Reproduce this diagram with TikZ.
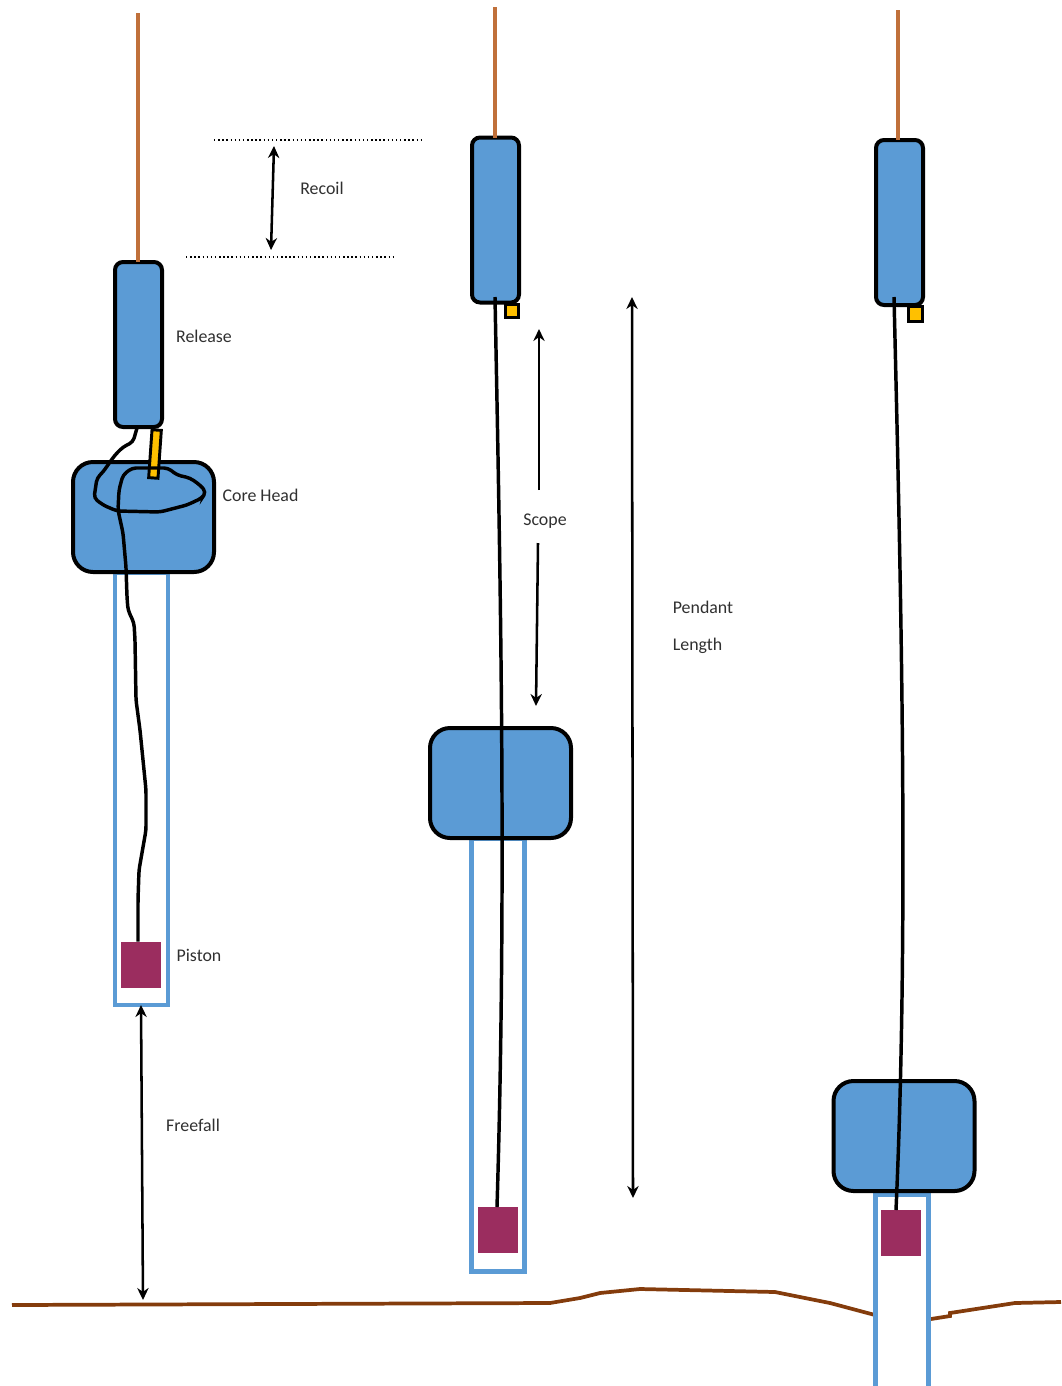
\documentclass[tikz,border=0pt]{standalone}
\usepackage{fontspec}
\setmainfont{Carlito}
\usepackage{xcolor}
\usetikzlibrary{positioning, arrows.meta}

\definecolor{bodyblue}{HTML}{5B9BD5}
\definecolor{pistonred}{HTML}{9B2D5F}
\definecolor{triggeryellow}{HTML}{FFC000}
\definecolor{ropebrown}{HTML}{C0703A}
\definecolor{seabed}{HTML}{843C0C}
\definecolor{labelgrey}{HTML}{303030}

\tikzset{
    release/.style={draw=black,fill=bodyblue,line width=3pt,rounded corners=6pt,inner sep=0pt,outer sep=0pt,minimum width=35.25pt,minimum height=123.75pt},
    corehead/.style={draw=black,fill=bodyblue,line width=3pt,rounded corners=15pt,inner sep=0pt,outer sep=0pt,minimum width=105.75pt,minimum height=82.5pt},
    barrel/.style={draw=bodyblue,fill=white,line width=3.6pt,inner sep=0pt,outer sep=0pt,minimum width=39.75pt},
    piston/.style={fill=pistonred,inner sep=0pt,outer sep=0pt,minimum width=30pt,minimum height=34.5pt},
    trigger/.style={draw=black,fill=triggeryellow,line width=2.2pt,inner sep=0pt,outer sep=0pt},
    rope/.style={draw=ropebrown,line width=2.8pt},
    wire/.style={draw=black,line width=2.6pt},
    ground/.style={draw=seabed,line width=2.8pt},
    span/.style={draw=black,line width=1.9pt,{Stealth[length=9pt,width=8.5pt]}-{Stealth[length=9pt,width=8.5pt]}},
    halfspan/.style={draw=black,line width=1.9pt,-{Stealth[length=9pt,width=8.5pt]}},
    level/.style={draw=black,line width=1.1pt,dotted,line cap=butt},
    lbl/.style={text=labelgrey,font=\fontsize{13.4pt}{16pt}\selectfont,inner sep=0pt}
}

\begin{document}
\begin{tikzpicture}[x=0.75pt,y=-0.75pt]
    \useasboundingbox (0,0) rectangle (1061,1386);

    % sea floor, the right part starts behind the last barrel
    \coordinate (floorA) at (12,1305);
    \coordinate (floorB) at (875,1315);
    \coordinate (floorC) at (931,1319);
    \coordinate (floorD) at (1061,1302);
    \draw[ground] (floorA) -- (550,1303) -- (580,1298) -- (600,1293) -- (640,1289) -- (775,1292) -- (830,1303) -- (floorB);
    \draw[ground] (floorC) -- (950,1316) -- (950,1313) -- (1015,1303) -- (floorD);

    % first stage
    \node[barrel,minimum height=324pt] (barrelA) at (141.5,789) {};
    \node[corehead] (headA) at (143.5,517) {};
    \node[release] (releaseA) at (138.5,344.5) {};
    \node[piston] (pistonA) at (140.5,964.5) {};
    \node[trigger,minimum width=7pt,minimum height=36pt,rotate=-4] (triggerA) at (155,454) {};
    \coordinate (ropeA) at (138,13);
    \draw[rope] (ropeA) -- (releaseA.north -| ropeA);
    \draw[wire,rounded corners=3pt] (137,428) -- (133,442) -- (123,447) -- (115,455) -- (110,462) -- (103,472) -- (97,478) -- (94,498)
        -- (103,505) -- (117,511) -- (160,512) -- (187,505) -- (202,498) -- (206,492) -- (200,485) -- (190,478) -- (177,475)
        -- (168,468) -- (132,468) -- (123,475) -- (119,490) -- (118,510) -- (123,533) -- (126,567) -- (127,597) -- (128,610)
        -- (134,623) -- (135,640) -- (136,700) -- (140,730) -- (146,790) -- (146,830) -- (139,870) -- (138,900) -- (pistonA.north -| 138,900);

    % second stage
    \node[barrel,minimum height=324.75pt] (barrelB) at (498,1055) {};
    \node[corehead] (headB) at (500.5,783) {};
    \node[trigger,minimum size=10pt] (triggerB) at (512,311) {};
    \node[release] (releaseB) at (495.5,220) {};
    \node[piston] (pistonB) at (497.5,1230) {};
    \coordinate (ropeB) at (495,7);
    \coordinate (wireB) at (495,297);
    \draw[rope] (ropeB) -- (releaseB.north -| ropeB);
    \draw[wire] (wireB) .. controls (500,560) and (507,880) .. (pistonB.north -| 497,1210);

    % third stage
    \node[barrel,minimum height=165pt] (barrelC) at (902,1305) {};
    \node[corehead] (headC) at (904,1136) {};
    \node[trigger,minimum size=11pt] (triggerC) at (915.5,314) {};
    \node[release] (releaseC) at (899.5,222.5) {};
    \node[piston] (pistonC) at (900.5,1233) {};
    \coordinate (ropeC) at (898,10);
    \coordinate (wireC) at (894,297);
    \draw[rope] (ropeC) -- (releaseC.north -| ropeC);
    \draw[wire] (wireC) .. controls (901,590) and (909,920) .. (pistonC.north -| 896,1210);

    % recoil levels and arrows
    \coordinate (levelAl) at (214,140);
    \coordinate (levelAr) at (422,140);
    \coordinate (levelBl) at (186,257);
    \coordinate (levelBr) at (395,257);
    \draw[level] (levelAl) -- (levelAr);
    \draw[level] (levelBl) -- (levelBr);
    \coordinate (recoilT) at (274,146);
    \coordinate (recoilB) at (271,250);
    \draw[span] (recoilT) -- (recoilB);

    \coordinate (scopeT) at (539,329);
    \coordinate (scopeU) at (539,490);
    \coordinate (scopeD) at (538,543);
    \coordinate (scopeB) at (536,706);
    \draw[halfspan] (scopeU) -- (scopeT);
    \draw[halfspan] (scopeD) -- (scopeB);

    \coordinate (pendantT) at (632,297);
    \coordinate (pendantB) at (633,1198);
    \draw[span] (pendantT) -- (pendantB);

    \coordinate (fallB) at (143,1300);
    \draw[span] (barrelA.south -| 141,1007) -- (fallB);

    % labels
    \node[lbl] (lblRelease) at (204,336.5) {Release};
    \node[lbl] (lblHead) at (260.5,495) {Core Head};
    \node[lbl] (lblPiston) at (199,955) {Piston};
    \node[lbl] (lblFreefall) at (193,1125) {Freefall};
    \node[lbl] (lblRecoil) at (322,188) {Recoil};
    \node[lbl] (lblScope) at (545,521) {Scope};
    \node[lbl] (lblPendant) at (703,607) {Pendant};
    \node[lbl] (lblLength) at (697.5,646) {Length};
\end{tikzpicture}
\end{document}
